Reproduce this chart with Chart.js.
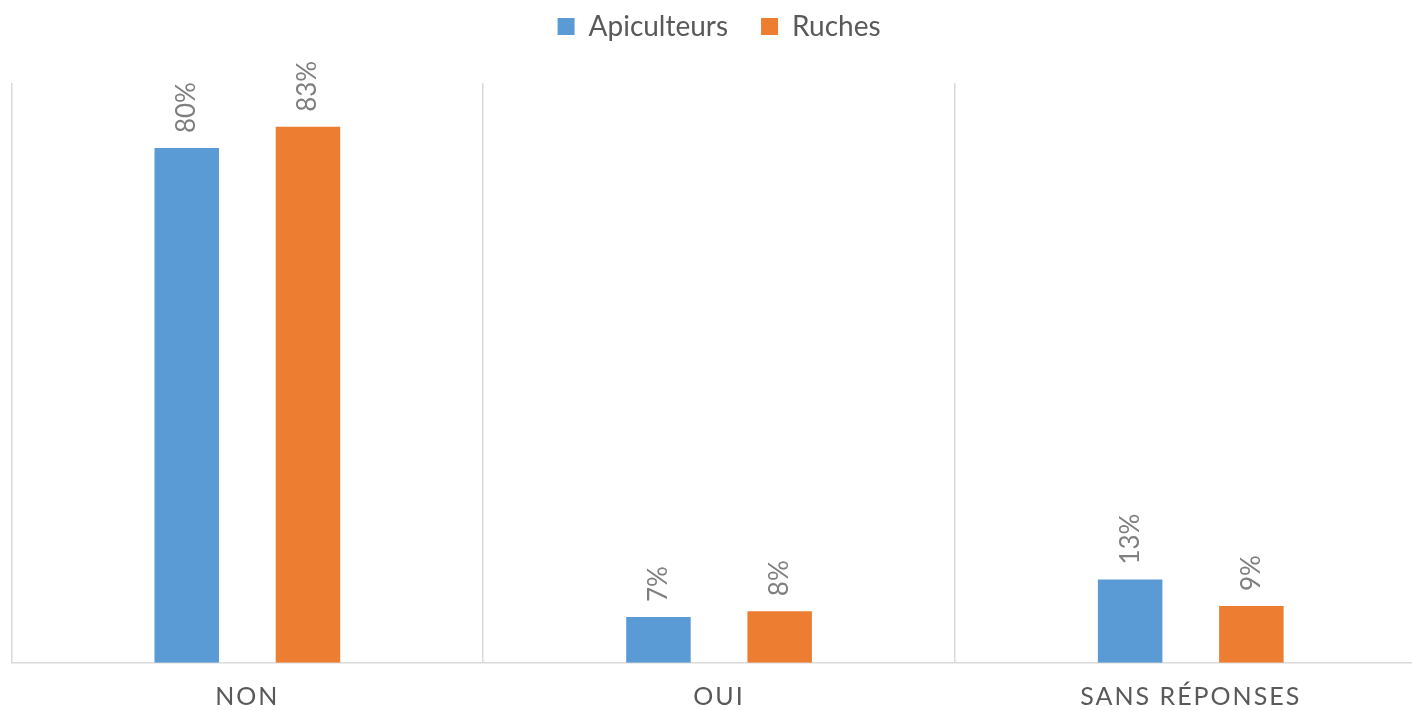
<!DOCTYPE html>
<html>
<head>
<meta charset="utf-8">
<script src="https://cdn.jsdelivr.net/npm/chart.js@4.4.1/dist/chart.umd.min.js"></script>
<style>
  html, body { margin: 0; padding: 0; background: #fff; overflow: hidden; }
  #wrap { position: relative; width: 1428px; height: 710px; }
</style>
</head>
<body>
<div id="wrap"><canvas id="chart"></canvas></div>
<script>
const categories = ['NON', 'OUI', 'SANS RÉPONSES'];
const seriesNames = ['Apiculteurs', 'Ruches'];
const apiculteurs = [79.9, 7.1, 12.9];
const ruches = [83.2, 8.0, 8.8];
const yMax = 90;

const BLUE = '#5B9BD5';
const ORANGE = '#ED7D31';
const GRID = '#d9d9d9';
const TEXT = '#595959';
const LABEL = '#7f7f7f';
const FONT = 'Lato, "Open Sans", sans-serif';

// extra room between the legend and the plot
const legendGap = {
    id: 'legendGap',
    beforeInit(chart) {
        const fit = chart.legend.fit;
        chart.legend.fit = function () {
            fit.bind(chart.legend)();
            this.height += 32.5;
        };
    }
};

// rotated value labels above the bars, then letter spacing for the x ticks
const barLabels = {
    id: 'barLabels',
    afterDatasetsDraw(chart) {
        const ctx = chart.ctx;
        ctx.save();
        ctx.font = '26px ' + FONT;
        ctx.fillStyle = LABEL;
        ctx.textAlign = 'left';
        ctx.textBaseline = 'middle';
        chart.data.datasets.forEach((ds, i) => {
            chart.getDatasetMeta(i).data.forEach((bar, j) => {
                ctx.save();
                ctx.translate(bar.x, bar.y - 15);
                ctx.rotate(-Math.PI / 2);
                ctx.fillText(Math.round(ds.data[j]) + '%', 0, 0);
                ctx.restore();
            });
        });
        ctx.restore();
        ctx.letterSpacing = '2px';
    },
    afterDraw(chart) {
        chart.ctx.letterSpacing = '0px';
    }
};

new Chart(document.getElementById('chart'), {
    type: 'bar',
    data: {
        labels: categories,
        datasets: [
            {label: seriesNames[0], data: apiculteurs, backgroundColor: BLUE, borderWidth: 0},
            {label: seriesNames[1], data: ruches, backgroundColor: ORANGE, borderWidth: 0}
        ]
    },
    options: {
        responsive: true,
        maintainAspectRatio: false,
        animation: false,
        events: [],
        categoryPercentage: 0.514,
        barPercentage: 0.532,
        layout: {
            padding: {top: -20.5, left: 11.5, right: 1.4, bottom: -21.7}
        },
        plugins: {
            tooltip: {enabled: false},
            legend: {
                position: 'top',
                labels: {
                    boxWidth: 17,
                    boxHeight: 17,
                    padding: 33,
                    color: TEXT,
                    font: {family: FONT, size: 28}
                }
            }
        },
        scales: {
            x: {
                offset: true,
                grid: {offset: true, color: GRID, lineWidth: 1.5, drawTicks: false},
                border: {display: true, color: GRID, width: 1.5},
                ticks: {
                    color: TEXT,
                    font: {family: FONT, size: 25, lineHeight: 1},
                    padding: 22,
                    maxRotation: 0,
                    autoSkip: false,
                    z: 1
                }
            },
            y: {
                display: false,
                min: 0,
                max: yMax
            }
        }
    },
    plugins: [legendGap, barLabels]
});
</script>
</body>
</html>
